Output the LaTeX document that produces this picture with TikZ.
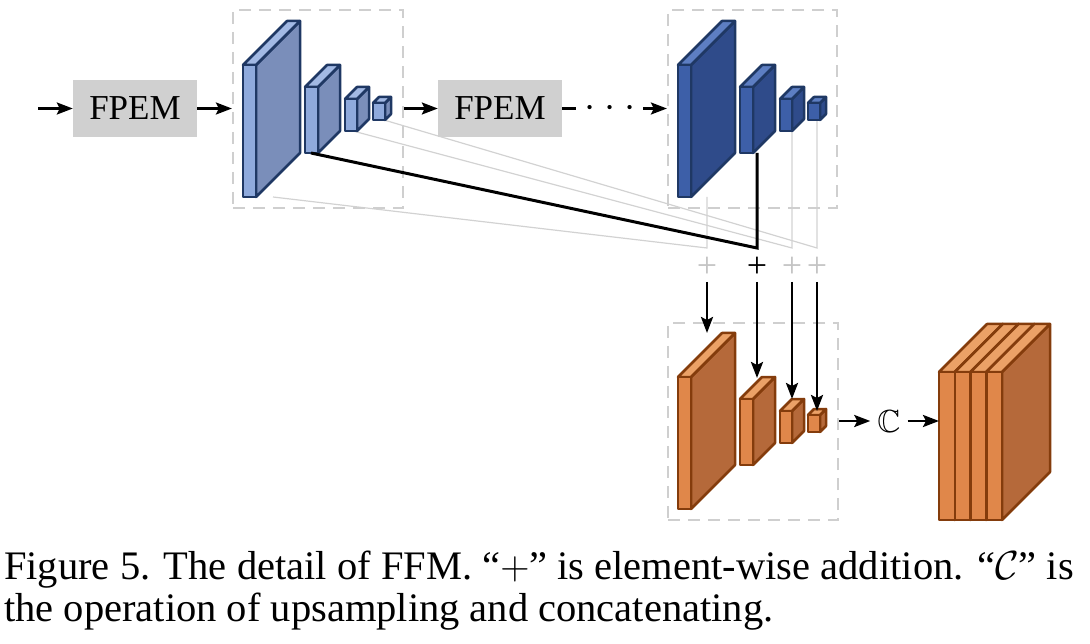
\documentclass[tikz,border=0pt]{standalone}
\usepackage{fontspec}
\usepackage{amssymb}
\usepackage{graphicx}
\setmainfont{Liberation Serif}
\usetikzlibrary{arrows.meta}
\definecolor{lbF}{HTML}{8FAADC}
\definecolor{lbS}{HTML}{7A8EBA}
\definecolor{lbT}{HTML}{A2B9E4}
\definecolor{lbL}{HTML}{1F3864}
\definecolor{dbF}{HTML}{3D5FA8}
\definecolor{dbS}{HTML}{2F4B8A}
\definecolor{dbT}{HTML}{5D7EC2}
\definecolor{dbL}{HTML}{1F3864}
\definecolor{orF}{HTML}{E0874A}
\definecolor{orS}{HTML}{B5693A}
\definecolor{orT}{HTML}{EBA167}
\definecolor{orL}{HTML}{843C0C}
\definecolor{boxgray}{HTML}{D0D0D0}
\definecolor{dashgray}{HTML}{CFCFCF}
\definecolor{thingray}{HTML}{D2D2D2}
\definecolor{plusgray}{HTML}{C4C4C4}
\newcommand{\cubo}[6]{%
  \filldraw[cubeline=#6,fill=#6S] (#1+#3,#2) -- ++(#5,-#5) -- ++(0,#4) -- ++(-#5,#5) -- cycle;
  \filldraw[cubeline=#6,fill=#6T] (#1,#2) -- ++(#5,-#5) -- ++(#3,0) -- ++(-#5,#5) -- cycle;
  \filldraw[cubeline=#6,fill=#6F] (#1,#2) rectangle ++(#3,#4);
}
\newcommand{\bigmath}[2]{{\fontsize{24.88}{30}\selectfont\scalebox{#1}{$#2$}}}
\begin{document}
\begin{tikzpicture}[x=1pt,y=-1pt,
  cubeline/.style={draw=#1L, line width=2.5pt, line join=round},
  fpembox/.style={fill=boxgray, minimum width=124pt, minimum height=57pt, inner sep=0pt, font=\fontsize{35}{35}\selectfont},
  groupbox/.style={draw=dashgray, line width=2.2pt, dash pattern=on 12pt off 8pt, inner sep=0pt},
  arr/.style={line width=2.6pt, -{Stealth[length=16pt, width=12pt, inset=3pt]}},
  thinline/.style={draw=thingray, line width=1.2pt},
  blackline/.style={draw=black, line width=3pt, line join=miter},
  plusnode/.style={inner sep=0pt, font=\fontsize{36}{36}\selectfont},
  captext/.style={anchor=base west, inner sep=0pt, font=\fontsize{40.5}{48}\selectfont}
]
\useasboundingbox (0,0) rectangle (1090,644);

% connection points
\coordinate (a1) at (273,197);
\coordinate (a2) at (311,153);
\coordinate (a3) at (353,131);
\coordinate (a4) at (384,120);
\coordinate (m1) at (707,248);
\coordinate (m2) at (757,248);
\coordinate (m3) at (792,248);
\coordinate (m4) at (817,248);
\coordinate (b1) at (707,197);
\coordinate (b2) at (757,153);
\coordinate (b3) at (792,131);
\coordinate (b4) at (817,120);

% thin gray connectors (behind)
\draw[thinline] (a1) -- (m1) -- (b1);
\draw[thinline] (a3) -- (m3) -- (b3);
\draw[thinline] (a4) -- (m4) -- (b4);

% group boxes
\node[groupbox, minimum width=170pt, minimum height=198pt] (box1) at (318,109) {};
\node[groupbox, minimum width=169pt, minimum height=198pt] (box2) at (752.5,109) {};
\node[groupbox, minimum width=170pt, minimum height=197pt] (box3) at (753,421.5) {};

% left feature pyramid (light blue)
\cubo{243}{65}{13}{132}{44}{lb}
\cubo{305}{87}{13}{66}{22}{lb}
\cubo{345}{99}{12}{32}{12}{lb}
\cubo{373}{103}{12}{17}{6}{lb}

% right feature pyramid (dark blue)
\cubo{678}{65}{13}{132}{44}{db}
\cubo{740}{87}{13}{66}{22}{db}
\cubo{780}{99}{12}{32}{12}{db}
\cubo{808}{103}{12}{17}{6}{db}

% orange pyramid
\cubo{678}{377}{13}{132}{44}{or}
\cubo{740}{399}{13}{66}{22}{or}
\cubo{780}{411}{12}{32}{12}{or}
\cubo{808}{415}{12}{17}{6}{or}

% concatenated block
\cubo{939}{372}{15.75}{148}{48}{or}
\cubo{954.75}{372}{15.75}{148}{48}{or}
\cubo{970.5}{372}{15.75}{148}{48}{or}
\cubo{986.25}{372}{15.75}{148}{48}{or}

% FPEM boxes
\node[fpembox] (fpem1) at (135,108.5) {FPEM};
\node[fpembox] (fpem2) at (500,108.5) {FPEM};

% black connector
\draw[blackline] (a2) -- (m2) -- (b2);

% plus signs
\node[plusnode, text=plusgray] (p1) at (707,267) {+};
\node[plusnode, text=black] (p2) at (757,267) {+};
\node[plusnode, text=plusgray] (p3) at (792,267) {+};
\node[plusnode, text=plusgray] (p4) at (817,267) {+};

% down arrows
\coordinate (s1) at (707,282);
\coordinate (s2) at (757,282);
\coordinate (s3) at (792,282);
\coordinate (s4) at (817,282);
\coordinate (t1) at (707,333);
\coordinate (t2) at (757,378);
\coordinate (t3) at (792,399);
\coordinate (t4) at (817,411);
\draw[arr] (s1) -- (t1);
\draw[arr] (s2) -- (t2);
\draw[arr] (s3) -- (t3);
\draw[arr] (s4) -- (t4);

% main flow
\coordinate (in) at (38,108.5);
\draw[arr] (in) -- (fpem1.west);
\draw[arr] (fpem1.east) -- (fpem1.east -| box1.west);
\draw[arr] (fpem2.west -| box1.east) -- (fpem2.west);
\coordinate (e2) at (576,108.5);
\draw[line width=2.6pt] (fpem2.east) -- (e2);
\node[anchor=base, inner sep=0pt] (dots) at (610,118) {\bigmath{1.6}{\cdotp\mkern1mu\cdotp\mkern1mu\cdotp}};
\coordinate (d2) at (643,108.5);
\draw[arr] (d2) -- (d2 -| box2.west);

% concatenation
\node[inner sep=0pt] (cc) at (889,421) {\resizebox{!}{22pt}{$\mathbb{C}$}};
\coordinate (bigin) at (939,421);
\draw[arr] (box3.east |- cc.west) -- ([xshift=-7pt]cc.west);
\draw[arr] ([xshift=7pt]cc.east) -- (bigin);

% caption
\node[captext] (cap1) at (4,579) {Figure 5. The detail of FFM. “\bigmath{1.63}{+}” is element-wise addition. “\bigmath{1.63}{\mathcal{C}}” is};
\node[captext] (cap2) at (4,621) {the operation of upsampling and concatenating.};
\end{tikzpicture}
\end{document}
